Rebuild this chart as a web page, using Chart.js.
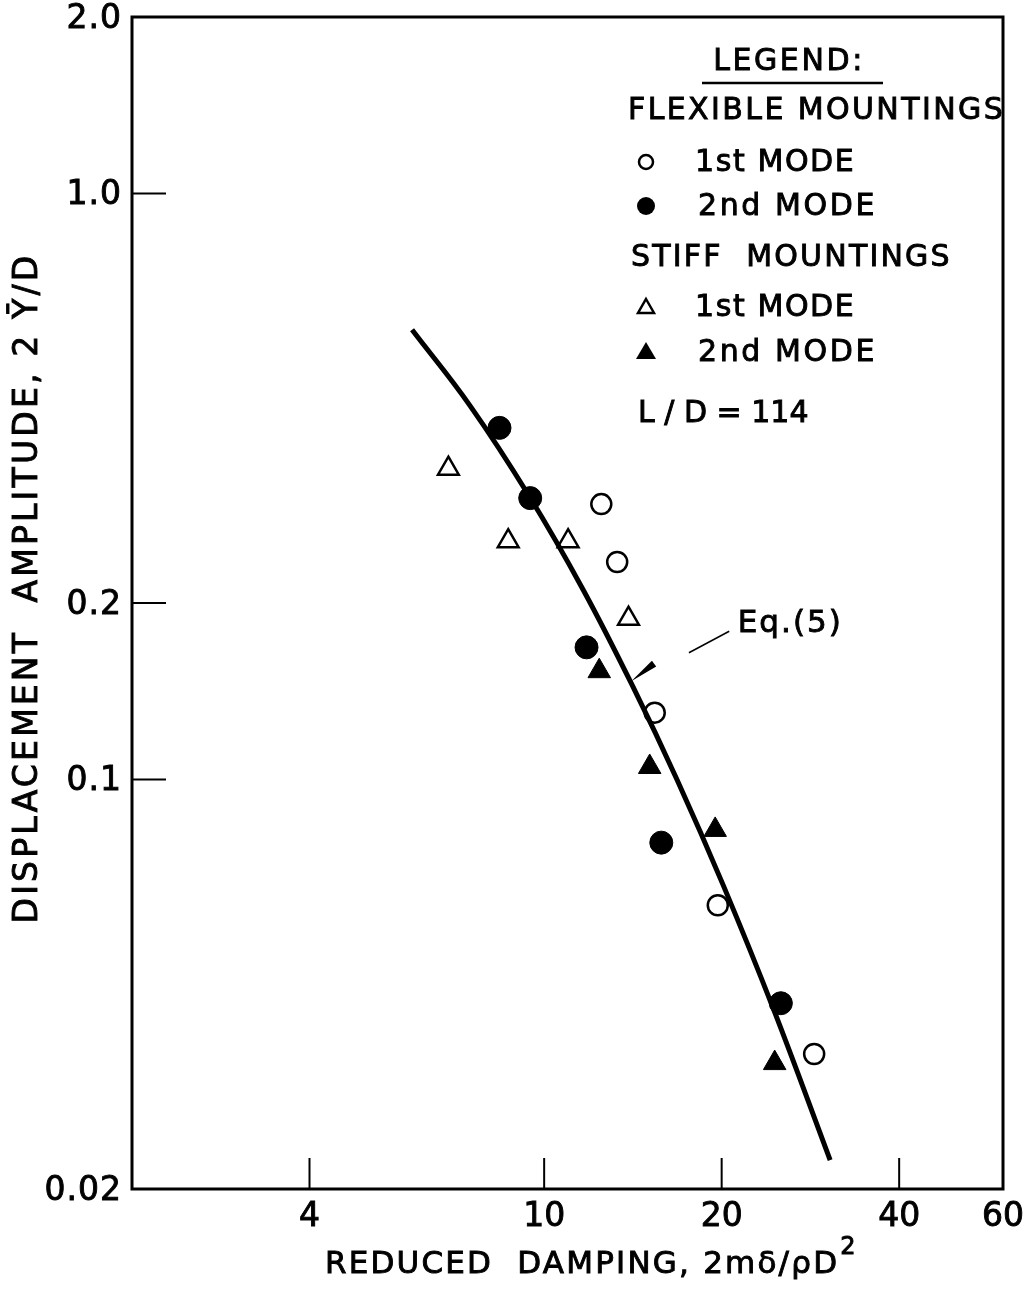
<!DOCTYPE html>
<html>
<head>
<meta charset="utf-8">
<script src="https://cdn.jsdelivr.net/npm/chart.js@4.4.1/dist/chart.umd.min.js"></script>
<style>
  html, body { margin: 0; padding: 0; background: #fff; }
  #wrap { width: 1029px; height: 1289px; position: relative; }
</style>
</head>
<body>
<div id="wrap"><canvas id="damping-chart"></canvas></div>
<script>
// Flexible mountings, 1st mode (open circles)
const flex1X = [12.5, 13.3, 15.4, 19.7, 28.7];
const flex1Y = [0.295, 0.235, 0.130, 0.061, 0.034];
// Flexible mountings, 2nd mode (filled circles)
const flex2X = [8.4, 9.47, 11.8, 15.8, 25.2];
const flex2Y = [0.398, 0.302, 0.168, 0.078, 0.0415];
// Stiff mountings, 1st mode (open triangles)
const stiff1X = [6.88, 8.69, 10.98, 13.9];
const stiff1Y = [0.339, 0.255, 0.255, 0.188];
// Stiff mountings, 2nd mode (filled triangles)
const stiff2X = [12.4, 15.1, 19.5, 24.6];
const stiff2Y = [0.153, 0.105, 0.082, 0.0328];
// Eq. (5) curve
const curveX = [5.97, 7.49, 9.43, 11.65, 14.15, 16.81, 20.12, 24.45, 30.55];
const curveY = [0.585, 0.434, 0.3045, 0.2105, 0.1438, 0.0998, 0.066, 0.0407, 0.0224];

// axis ticks
const xTickVals = [4, 10, 20, 40, 60];
const xTickLabels = ['4', '10', '20', '40', '60'];
const xTickMarks = [4, 10, 20, 40];
const yTickVals = [0.02, 0.1, 0.2, 1.0, 2.0];
const yTickLabels = ['0.02', '0.1', '0.2', '1.0', '2.0'];
const yTickMarks = [0.1, 0.2, 1.0];

const FONT = '"DejaVu Sans", "Liberation Sans", sans-serif';

function pts(xs, ys) {
  return xs.map((x, i) => ({ x: x, y: ys[i] }));
}

// lettering: fill plus a thin stroke so it reads like the inked original
function text(ctx, s, x, y, size, align, spacing) {
  ctx.font = size + 'px ' + FONT;
  ctx.letterSpacing = (spacing || 0) + 'px';
  ctx.textAlign = align || 'left';
  ctx.textBaseline = 'middle';
  ctx.lineWidth = 0.9;
  ctx.fillText(s, x, y);
  ctx.strokeText(s, x, y);
  ctx.letterSpacing = '0px';
}

// frame, inward ticks, labels, titles, legend and the Eq.(5) note
const paperPlugin = {
  id: 'paper',
  afterDraw(chart) {
    const ctx = chart.ctx;
    const a = chart.chartArea;
    const xs = chart.scales.x;
    const ys = chart.scales.y;
    ctx.save();
    ctx.strokeStyle = '#000';
    ctx.fillStyle = '#000';

    // frame
    ctx.lineWidth = 3;
    ctx.strokeRect(a.left, a.top, a.right - a.left, a.bottom - a.top);

    // inward tick marks
    ctx.lineWidth = 2;
    yTickMarks.forEach(v => {
      const p = ys.getPixelForValue(v);
      ctx.beginPath(); ctx.moveTo(a.left, p); ctx.lineTo(a.left + 34, p); ctx.stroke();
    });
    xTickMarks.forEach(v => {
      const p = xs.getPixelForValue(v);
      ctx.beginPath(); ctx.moveTo(p, a.bottom); ctx.lineTo(p, a.bottom - 31); ctx.stroke();
    });

    // tick labels
    yTickVals.forEach((v, i) => {
      text(ctx, yTickLabels[i], a.left - 10, ys.getPixelForValue(v) + 2, 33, 'right', 1);
    });
    xTickVals.forEach((v, i) => {
      text(ctx, xTickLabels[i], xs.getPixelForValue(v), a.bottom + 28, 33, 'center', 0);
    });

    // x title
    const xt = 'REDUCED  DAMPING, 2m\u03b4/\u03c1D';
    text(ctx, xt, 325, 1265, 31, 'left', 2.2);
    ctx.font = '31px ' + FONT;
    ctx.letterSpacing = '2.2px';
    const w = ctx.measureText(xt).width;
    ctx.letterSpacing = '0px';
    text(ctx, '2', 325 + w + 1, 1248, 24, 'left', 0);

    // y title
    ctx.save();
    ctx.translate(28, 588);
    ctx.rotate(-Math.PI / 2);
    text(ctx, 'DISPLACEMENT  AMPLITUDE, 2 Y\u0304/D', 0, 0, 33, 'center', 3.2);
    ctx.restore();

    // legend
    text(ctx, 'LEGEND:', 789, 62, 30, 'center', 2.6);
    ctx.lineWidth = 2.5;
    ctx.beginPath(); ctx.moveTo(702, 83); ctx.lineTo(883, 83); ctx.stroke();
    text(ctx, 'FLEXIBLE MOUNTINGS', 628, 111, 30, 'left', 2.4);
    text(ctx, '1st MODE', 695, 163, 30, 'left', 1.6);
    text(ctx, '2nd MODE', 698, 207, 30, 'left', 2.6);
    text(ctx, 'STIFF  MOUNTINGS', 631, 258, 30, 'left', 2.2);
    text(ctx, '1st MODE', 695, 308, 30, 'left', 1.6);
    text(ctx, '2nd MODE', 698, 353, 30, 'left', 2.6);
    text(ctx, 'L / D = 114', 638, 414, 30, 'left', 0);

    // legend symbols
    ctx.lineWidth = 2.5;
    ctx.beginPath(); ctx.arc(646, 162, 7, 0, Math.PI * 2); ctx.stroke();
    ctx.beginPath(); ctx.arc(646, 206, 9, 0, Math.PI * 2); ctx.fill();
    ctx.beginPath(); ctx.moveTo(646, 299); ctx.lineTo(654, 313); ctx.lineTo(638, 313); ctx.closePath(); ctx.stroke();
    ctx.beginPath(); ctx.moveTo(646, 342); ctx.lineTo(656, 359); ctx.lineTo(636, 359); ctx.closePath(); ctx.fill();

    // Eq.(5) label with leader and dart
    const lx = xs.getPixelForValue(21.3), ly = ys.getPixelForValue(0.184);
    text(ctx, 'Eq.(5)', lx, ly, 31, 'left', 2);
    ctx.lineWidth = 1.5;
    ctx.beginPath();
    ctx.moveTo(xs.getPixelForValue(17.6), ys.getPixelForValue(0.1645));
    ctx.lineTo(xs.getPixelForValue(20.6), ys.getPixelForValue(0.179));
    ctx.stroke();
    const tx = xs.getPixelForValue(14.05), ty = ys.getPixelForValue(0.147);
    const ex = xs.getPixelForValue(15.36), ey = ys.getPixelForValue(0.1576);
    const dx = ex - tx, dy = ey - ty, len = Math.hypot(dx, dy);
    const nx = -dy / len * 3.5, ny = dx / len * 3.5;
    ctx.beginPath();
    ctx.moveTo(tx, ty);
    ctx.lineTo(ex + nx, ey + ny);
    ctx.lineTo(ex - nx, ey - ny);
    ctx.closePath();
    ctx.fill();

    ctx.restore();
  }
};

const ctx = document.getElementById('damping-chart').getContext('2d');
new Chart(ctx, {
  type: 'scatter',
  data: {
    datasets: [
      {
        label: 'Eq. (5)',
        data: pts(curveX, curveY),
        showLine: true,
        borderColor: '#000',
        borderWidth: 5,
        pointRadius: 0,
        tension: 0.4,
        fill: false,
        order: 0
      },
      {
        label: 'Flexible, 1st mode',
        data: pts(flex1X, flex1Y),
        pointStyle: 'circle',
        pointRadius: 10,
        pointBackgroundColor: '#fff',
        pointBorderColor: '#000',
        pointBorderWidth: 2.5,
        order: 1
      },
      {
        label: 'Flexible, 2nd mode',
        data: pts(flex2X, flex2Y),
        pointStyle: 'circle',
        pointRadius: 11.5,
        pointBackgroundColor: '#000',
        pointBorderColor: '#000',
        pointBorderWidth: 1,
        order: 1
      },
      {
        label: 'Stiff, 1st mode',
        data: pts(stiff1X, stiff1Y),
        pointStyle: 'triangle',
        pointRadius: 12,
        pointBackgroundColor: '#fff',
        pointBorderColor: '#000',
        pointBorderWidth: 2.5,
        order: 1
      },
      {
        label: 'Stiff, 2nd mode',
        data: pts(stiff2X, stiff2Y),
        pointStyle: 'triangle',
        pointRadius: 13,
        pointBackgroundColor: '#000',
        pointBorderColor: '#000',
        pointBorderWidth: 1,
        order: 1
      }
    ]
  },
  options: {
    responsive: true,
    maintainAspectRatio: false,
    animation: false,
    layout: { padding: { top: 17, right: 26, left: 0, bottom: 0 } },
    plugins: { legend: { display: false }, tooltip: { enabled: false } },
    scales: {
      x: {
        type: 'logarithmic',
        min: 2,
        max: 60,
        ticks: { display: false },
        grid: { display: false },
        border: { display: false },
        afterFit: s => { s.height = 100; }
      },
      y: {
        type: 'logarithmic',
        min: 0.02,
        max: 2,
        ticks: { display: false },
        grid: { display: false },
        border: { display: false },
        afterFit: s => { s.width = 132; }
      }
    }
  },
  plugins: [paperPlugin]
});
</script>
</body>
</html>
